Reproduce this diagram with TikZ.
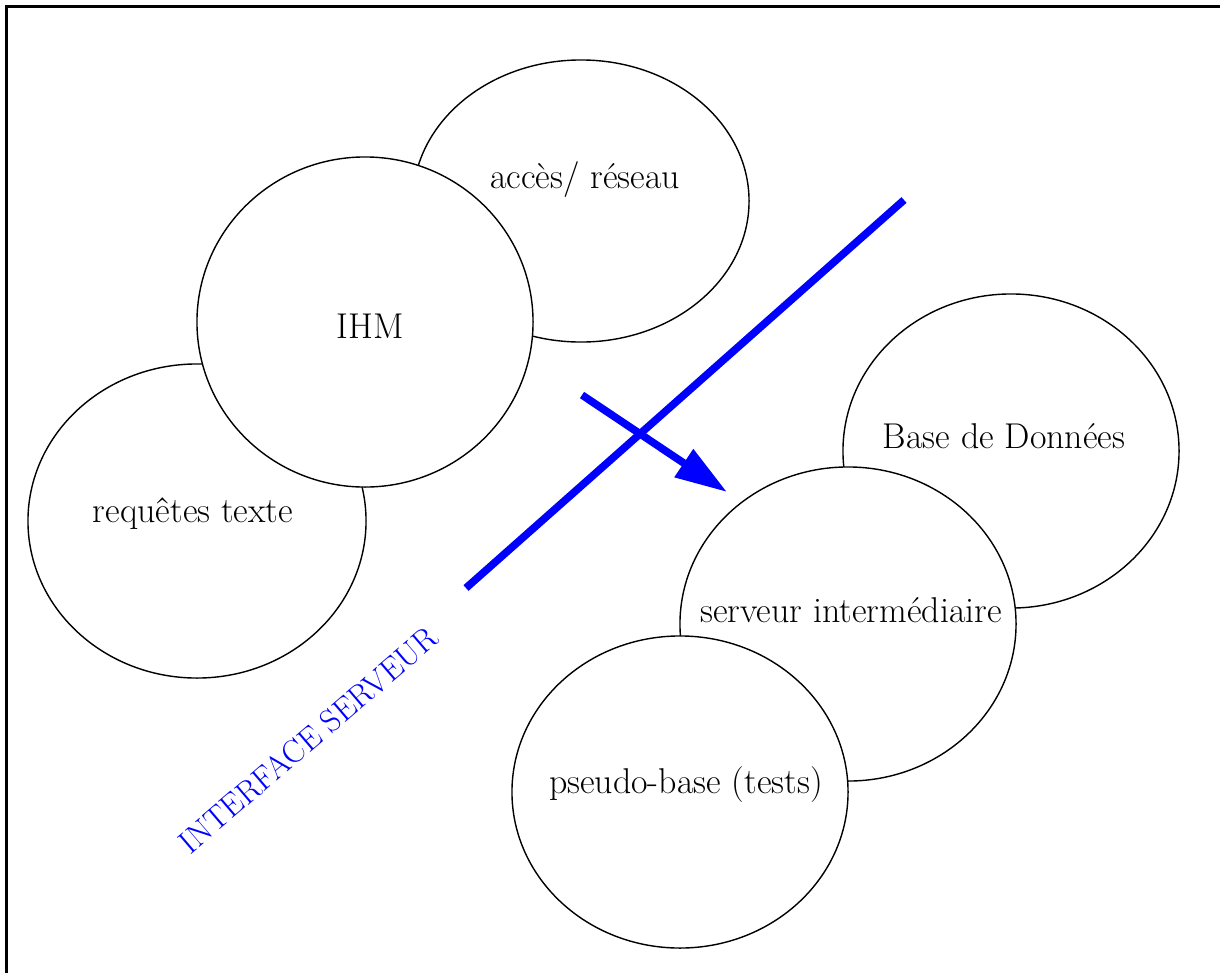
\documentclass[tikz,border=0pt]{standalone}
\usetikzlibrary{shapes.geometric,arrows.meta}
\begin{document}
\begin{tikzpicture}[x=0.025cm,y=-0.025cm,
    bulle/.style={draw,ellipse,fill=white,line width=1pt,minimum width=8.4cm,minimum height=7.85cm,inner sep=0pt},
    etiquette/.style={anchor=base,font=\fontsize{25.5}{30}\selectfont},
    trait/.style={blue,line width=0.19cm}]
        \useasboundingbox (0,0) rectangle (1220,973);
        \draw [line width=2.1pt] (6.5,973) -- (6.5,6.5) -- (1220,6.5); % Cadre coupe.

        \node[bulle,minimum height=7.05cm] (acces) at (581,201) {};
        \node[bulle,minimum width=8.45cm] (requetes) at (197,521) {};
        \node[bulle,minimum height=8.25cm] (ihm) at (365,322) {}; % Par-dessus les deux autres.

        \node[bulle] (base) at (1011,451) {};
        \node[bulle] (serveur) at (848,624) {};
        \node[bulle,minimum height=7.8cm] (pseudo) at (680,792) {};

        \node[etiquette] (t-acces) at (585,188) {accès/ réseau};
        \node[etiquette] (t-ihm) at (370,338) {IHM};
        \node[etiquette] (t-requetes) at (193,522) {requêtes texte};
        \node[etiquette] (t-base) at (1004,448) {Base de Données};
        \node[etiquette] (t-serveur) at (851,622) {serveur intermédiaire};
        \node[etiquette] (t-pseudo) at (686,793) {pseudo-base (tests)};

        \coordinate (coupe-bas) at (466,588);
        \coordinate (coupe-haut) at (904,200);
        \draw [trait] (coupe-bas) -- (coupe-haut); % Interface.

        \coordinate (depart) at (582,395);
        \coordinate (pointe) at (727,492);
        \draw [trait,-{Triangle[length=1.3cm,width=0.8cm]}] (depart) -- (pointe);

        \node[blue,rotate=40.5,font=\fontsize{23}{27}\selectfont] (interface) at (308,740) {INTERFACE SERVEUR};
      \end{tikzpicture}
\end{document}
